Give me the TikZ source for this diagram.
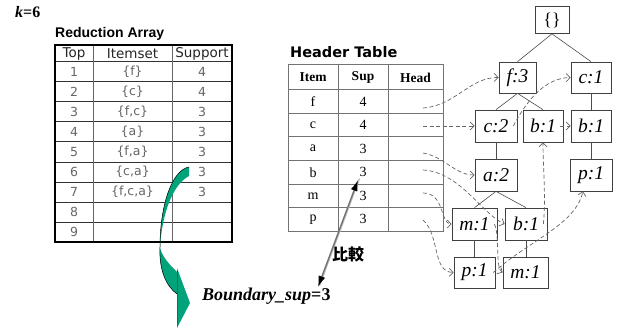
\documentclass[tikz,border=0pt]{standalone}
\usepackage{fontspec}
\setmainfont{Liberation Serif}
\newfontfamily\gothic{DejaVu Sans}
\newfontfamily\titlefont{Liberation Sans}
\newfontfamily\hdrfont{DejaVu Sans}
\newfontfamily\cjk{Noto Sans CJK JP}
\usetikzlibrary{arrows.meta}
\definecolor{ribbon}{RGB}{0,163,122}
\definecolor{ribbondark}{RGB}{0,120,90}
\tikzset{
  tnode/.style={draw=black!75, line width=0.7pt, fill=white, inner sep=0pt,
    font=\fontsize{19.5}{21}\selectfont\itshape},
  tedge/.style={draw=black!70, line width=0.6pt},
  link/.style={draw=black!60, dash pattern=on 4pt off 2.5pt, line width=0.7pt,
    -{Straight Barb[length=4pt,width=8pt]}},
  rgrid/.style={draw=black!80, line width=1pt},
  rvert/.style={draw=black!60, line width=1pt},
  rframe/.style={draw=black, line width=1.5pt},
  hgrid/.style={draw=black!55, line width=1pt},
  rhead/.style={inner sep=0pt, text=black!85, font=\gothic\fontsize{13.5}{15}\selectfont},
  rcell/.style={inner sep=0pt, text=black!60, font=\gothic\fontsize{12.5}{14}\selectfont},
  hhead/.style={inner sep=0pt, font=\bfseries\fontsize{13.5}{15}\selectfont},
  hcell/.style={inner sep=0pt, font=\fontsize{14}{16}\selectfont},
  dbl/.style={draw=black!55, line width=1.4pt,
    {Latex[length=11pt,width=7pt,color=black]}-{Latex[length=11pt,width=7pt,color=black]}}
}
\begin{document}
\begin{tikzpicture}[x=1pt,y=-1pt]
\useasboundingbox (0,0) rectangle (628,331);
\fill[white] (0,0) rectangle (628,331);

% k=6
\node[anchor=base west, inner sep=0pt, font=\bfseries\fontsize{16}{18}\selectfont] (k) at (15,18) {\textit{k}=6};

% Reduction Array
\node[anchor=base west, inner sep=0pt, font=\titlefont\bfseries\fontsize{14}{16}\selectfont] (rtitle) at (55,38) {Reduction Array};
\foreach \yy in {62,82,...,222} \draw[rgrid] (55,\yy) -- (232,\yy);
\draw[rvert] (93,45) -- (93,242);
\draw[rvert] (172,45) -- (172,242);
\draw[rframe] (55,45) rectangle (232,242);
\node[rhead] (rhTop) at (74,53.5) {Top};
\node[rhead] (rhSet) at (132.5,53.5) {Itemset};
\node[rhead] (rhSup) at (202,53.5) {Support};
\foreach \i/\s/\v in {1/{\{f\}}/4, 2/{\{c\}}/4, 3/{\{f,c\}}/3, 4/{\{a\}}/3, 5/{\{f,a\}}/3, 6/{\{c,a\}}/3, 7/{\{f,c,a\}}/3} {
  \node[rcell] (rn\i) at (74,{52+20*\i}) {\i};
  \node[rcell] (rs\i) at (132.5,{52+20*\i}) {\s};
  \node[rcell] (rv\i) at (202,{52+20*\i}) {\v};
}
\node[rcell] (rn8) at (74,212) {8};
\node[rcell] (rn9) at (74,232) {9};

% Header Table
\node[anchor=base west, inner sep=0pt, font=\hdrfont\bfseries\fontsize{14.5}{16}\selectfont] (htitle) at (290,58) {Header Table};
\foreach \yy in {90,113.5,137,160.5,184,207.5} \draw[hgrid] (288,\yy) -- (443,\yy);
\draw[hgrid] (338,65) -- (338,231);
\draw[hgrid] (388,65) -- (388,231);
\draw[hgrid] (288,65) rectangle (443,231);
\node[hhead] (hhItem) at (313,77.5) {Item};
\node[hhead] (hhSup) at (363,77.5) {Sup};
\node[hhead] (hhHead) at (415.5,77.5) {Head};
\foreach \n/\it/\v/\yy in {f/f/4/101.75, c/c/4/125.25, a/a/3/148.75, b/b/3/172.25, m/m/3/195.75, p/p/3/219.25} {
  \node[hcell] (hi\n) at (313,\yy) {\it};
  \node[hcell] (hv\n) at (363,\yy) {\v};
}

% Tree nodes
\node[tnode, minimum width=34pt, minimum height=27pt, font=\fontsize{18}{20}\selectfont] (root) at (552,20) {\{\}};
\node[tnode, minimum width=37pt, minimum height=31pt] (f3) at (517.5,77.5) {f:3};
\node[tnode, minimum width=40pt, minimum height=31pt] (c1) at (591,77.5) {c:1};
\node[tnode, minimum width=42pt, minimum height=32pt] (c2) at (496,126) {c:2};
\node[tnode, minimum width=40pt, minimum height=32pt] (b1m) at (543,126) {b:1};
\node[tnode, minimum width=40pt, minimum height=32pt] (b1r) at (591,126) {b:1};
\node[tnode, minimum width=42pt, minimum height=32pt] (a2) at (496,175) {a:2};
\node[tnode, minimum width=42pt, minimum height=32pt] (p1r) at (591,175) {p:1};
\node[tnode, minimum width=45pt, minimum height=32pt] (m1) at (474.5,224) {m:1};
\node[tnode, minimum width=42pt, minimum height=32pt] (b1l) at (526,224) {b:1};
\node[tnode, minimum width=41pt, minimum height=31pt] (p1b) at (474.5,272.5) {p:1};
\node[tnode, minimum width=45pt, minimum height=31pt] (m1b) at (525.5,272.5) {m:1};

% Tree edges
\draw[tedge] (root.south) -- (f3.north);
\draw[tedge] (root.south) -- (c1.north);
\draw[tedge] (f3.south) -- (c2.north);
\draw[tedge] (f3.south) -- (b1m.north);
\draw[tedge] (c1) -- (b1r);
\draw[tedge] (b1r) -- (p1r);
\draw[tedge] (c2) -- (a2);
\draw[tedge] (a2.south) -- (m1.north);
\draw[tedge] (a2.south) -- (b1l.north);
\draw[tedge] (m1) -- (p1b);
\draw[tedge] (b1l.south) -- (m1b.north -| b1l.south);

% Header links
\coordinate (hf) at (423,108);
\coordinate (hc) at (423,126);
\coordinate (ha) at (423,153);
\coordinate (hb) at (423,170);
\coordinate (hm) at (423,193);
\coordinate (hp) at (423,220);
\draw[link] (hf) .. controls (455,106) and (470,77) .. (f3.west);
\draw[link] (hc) -- (c2.west);
\draw[link] (ha) .. controls (445,157) and (455,175) .. (a2.west);
\draw[link] (hb) .. controls (460,172) and (482,214) .. (b1l.west);
\draw[link] (hm) .. controls (445,193) and (440,224) .. (m1.west);
\draw[link] (hp) .. controls (440,235) and (432,272) .. (p1b.west);

% Node links
\draw[link] ([xshift=-4pt]c2.east) .. controls (527,100) and (545,78) .. (c1.west);
\draw[link] ([xshift=-3pt]b1m.east) -- (b1r.west);
\draw[link] ([xshift=-4pt]b1l.east) .. controls (546,200) and (543,165) .. (b1m.south);
\draw[link] ([xshift=-3pt]m1.east) .. controls (500,235) and (495,268) .. (m1b.west);
\draw[link] ([xshift=-2pt]p1b.east) .. controls (530,240) and (575,225) .. ([xshift=-8pt]p1r.south);

% Green ribbon arrow
\fill[ribbon] (189,167) .. controls (172,170) and (160,205) .. (160,247) .. controls (162,215) and (172,185) .. (189,176) -- cycle;
\draw[black, line width=0.5pt] (189,167) .. controls (172,170) and (160,205) .. (160,247);
\fill[ribbon] (160,248) .. controls (159,270) and (166,286) .. (177,294) -- (177,272) .. controls (170,265) and (163,258) .. (160,248) -- cycle;
\draw[black, line width=0.5pt] (160,247) .. controls (159,270) and (166,286) .. (177,294);
\fill[ribbon] (177,268) -- (190,303) -- (177,328) -- cycle;
\draw[ribbondark, line width=1pt] (177.5,270) -- (177.5,326);

% Boundary label
\node[anchor=base west, inner sep=0pt, font=\bfseries\fontsize{18}{20}\selectfont] (bnd) at (202,300) {\textit{Boundary\_sup}=3};

% comparison arrow
\coordinate (da1) at (358,180);
\coordinate (da2) at (318,287);
\draw[draw=black!25, line width=1.4pt] ([xshift=1.5pt,yshift=1.5pt]da1) -- ([xshift=1.5pt,yshift=1.5pt]da2);
\draw[dbl] (da1) -- (da2);
\node[inner sep=0pt, font=\cjk\bfseries\fontsize{16}{18}\selectfont] (cmp) at (348,254) {比較};
\end{tikzpicture}
\end{document}
